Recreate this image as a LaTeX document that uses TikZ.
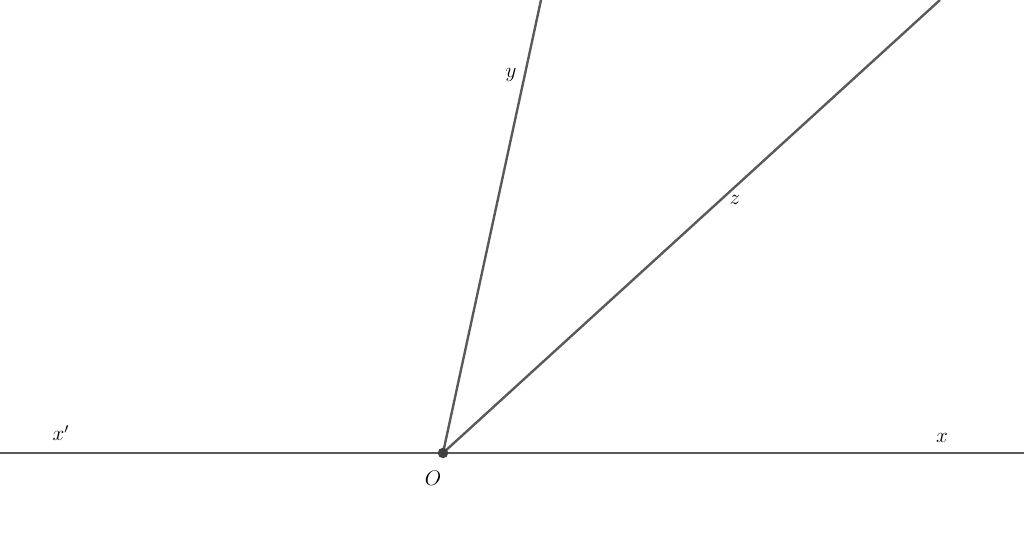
\documentclass[tikz,border=0pt]{standalone}
\usepackage{amsmath, amssymb}
\usepackage{tikz}
\tikzstyle{dot}=[circle, fill=black!75, inner sep=0pt, minimum size=2.1mm]
\tikzstyle{ray}=[line width=1.35pt, draw=black!65]
\tikzstyle{lbl}=[font=\large, inner sep=0pt]

\begin{document}
\begin{tikzpicture}[x=.2mm, y=.2mm]
  \useasboundingbox (0,0) rectangle (1024,544);
  \coordinate (O) at (443,91);
  \coordinate (L) at (0,91);
  \coordinate (R) at (1024,91);
  \coordinate (Y) at (541,544);
  \coordinate (Z) at (940,544);
  \draw[ray] (L) -- (R);
  \draw[ray] (O) -- (Y);
  \draw[ray] (O) -- (Z);
  \node[dot] (o) at (O) {};
  \node[lbl] (ly) at (511,469) {$y$};
  \node[lbl] (lz) at (735,344) {$z$};
  \node[lbl] (lxp) at (61,111) {$x'$};
  \node[lbl] (lx) at (942,106) {$x$};
  \node[lbl] (lo) at (433,66) {$O$};
\end{tikzpicture}
\end{document}
